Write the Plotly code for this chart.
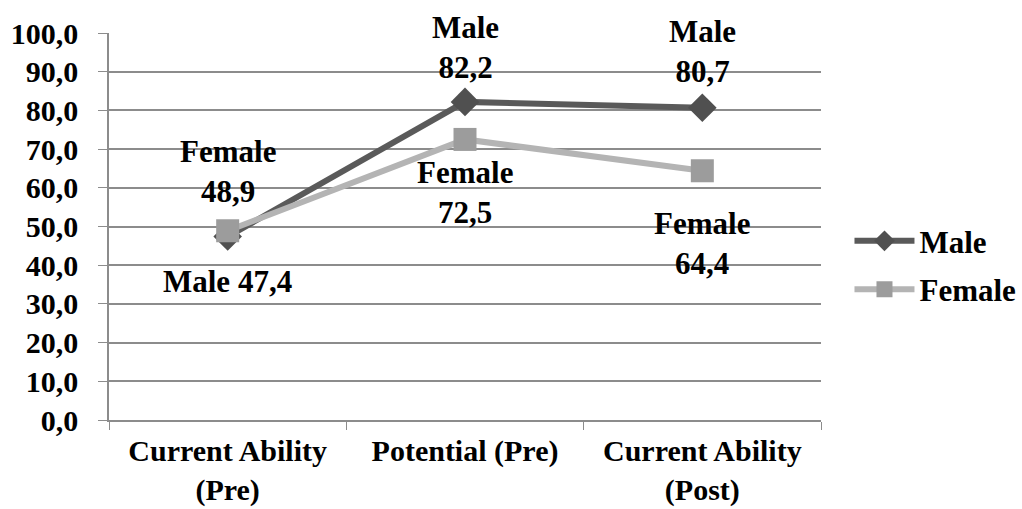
import plotly.graph_objects as go

categories = ["Current Ability<br>(Pre)", "Potential (Pre)", "Current Ability<br>(Post)"]
male = [47.4, 82.2, 80.7]
female = [48.9, 72.5, 64.4]
y_ticks = [0, 10, 20, 30, 40, 50, 60, 70, 80, 90, 100]

FONT = "'Times New Roman', 'Liberation Serif', serif"
FS = 31

fig = go.Figure()

fig.add_trace(go.Scatter(
    x=categories, y=male, name="<b>Male</b>", mode="lines+markers",
    legendgroup="m",
    line=dict(color="#5a5a5a", width=6),
    marker=dict(symbol="diamond", size=22, color="#505050"),
))
fig.add_trace(go.Scatter(
    x=categories, y=female, name="<b>Female</b>", mode="lines+markers",
    legendgroup="f",
    line=dict(color="#b4b4b4", width=6),
    marker=dict(symbol="square", size=23, color="#9c9c9c"),
))

def fmt(v):
    return f"{v:.1f}".replace(".", ",")

# data labels: (category index, value, text, position, offset)
labels = [
    (0, female[0], f"Female<br>{fmt(female[0])}", "above", 20),
    (0, male[0], f"Male {fmt(male[0])}", "below", 25),
    (1, male[1], f"Male<br>{fmt(male[1])}", "above", 15),
    (1, female[1], f"Female<br>{fmt(female[1])}", "below", 14),
    (2, male[2], f"Male<br>{fmt(male[2])}", "above", 17),
    (2, female[2], f"Female<br>{fmt(female[2])}", "below", 33),
]
for i, v, txt, pos, gap in labels:
    fig.add_annotation(
        x=categories[i], y=v, text=f"<b>{txt}</b>", showarrow=False,
        yanchor="bottom" if pos == "above" else "top",
        yshift=gap if pos == "above" else -gap,
        font=dict(family=FONT, size=FS, color="black"),
    )

fig.update_layout(
    width=1022, height=509,
    margin=dict(l=109, r=201, t=33, b=89, autoexpand=False),
    paper_bgcolor="white", plot_bgcolor="white",
    separators=",.",
    font=dict(family=FONT, size=FS, color="black"),
    showlegend=True,
    legend=dict(x=1.04, y=0.40, xanchor="left", yanchor="middle",
                font=dict(family=FONT, size=FS, color="black"),
                tracegroupgap=5, itemwidth=60),
    xaxis=dict(
        showgrid=False, showline=True, linecolor="#8c8c8c", linewidth=1.5,
        ticks="outside", tickson="boundaries", ticklen=8, tickcolor="#8c8c8c",
        tickfont=dict(family=FONT, size=30, color="black"),
        ticklabelstandoff=3, automargin=False,
        range=[-0.5, 2.5],
    ),
    yaxis=dict(
        range=[0, 100], tickvals=y_ticks, tickformat=".1f",
        showgrid=True, gridcolor="#8c8c8c", gridwidth=1.5,
        showline=True, linecolor="#8c8c8c", linewidth=1.5,
        ticks="outside", ticklen=9, tickcolor="#8c8c8c",
        tickfont=dict(family=FONT, size=30, color="black"),
        ticklabelstandoff=14, automargin=False,
        zeroline=False,
    ),
)

fig.update_xaxes(ticktext=[f"<b>{c}</b>" for c in categories], tickvals=categories)
fig.update_yaxes(ticktext=[f"<b>{fmt(v)}</b>" for v in y_ticks])

fig.write_html("out.html")
